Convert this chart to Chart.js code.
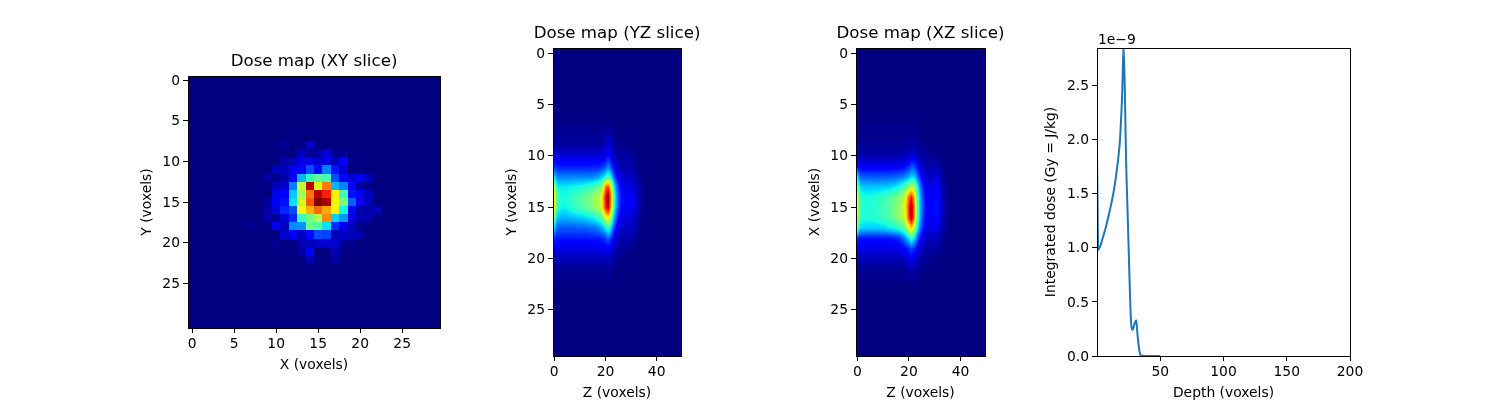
<!DOCTYPE html>
<html>
<head>
<meta charset="utf-8">
<title>Dose maps</title>
<script src="https://cdn.jsdelivr.net/npm/chart.js@4/dist/chart.umd.min.js"></script>
<style>
  html, body { margin: 0; background: #fff; width: 1500px; height: 400px; overflow: hidden; }
  canvas { position: absolute; }
</style>
</head>
<body>
<canvas id="xy" style="left:138px;top:51px" width="352" height="323"></canvas>
<canvas id="yz" style="left:503px;top:23px" width="228" height="379"></canvas>
<canvas id="xz" style="left:806px;top:23px" width="229" height="379"></canvas>
<canvas id="depth" style="left:1042px;top:28px" width="328" height="374"></canvas>
<script>
/* ----------------------------------------------------------
   Data. Dose maps are % of the map's
   maximum, rows are Y (or X), short rows are zero to the end.
   ---------------------------------------------------------- */
const xyTicks = [0, 5, 10, 15, 20, 25];
const yTicks = [0, 5, 10, 15, 20, 25];
const zTicks = [0, 20, 40];
const depthTicks = [50, 100, 150, 200];
const doseTicks = [0, 0.5, 1, 1.5, 2, 2.5];

const xyDose = [
  [], [], [], [], [], [], [], [],
  [0,0,0,0,0,0,0,0,0,0,0,2,0,0,7],
  [0,0,0,0,0,0,0,0,0,0,0,0,0,5,2,3,8,1,2],
  [0,0,0,0,0,0,0,0,0,0,0,3,5,9,9,7,9,5,12,1],
  [0,0,0,0,0,0,0,0,0,0,5,5,10,10,20,13,25,14,7],
  [0,0,0,0,0,0,0,0,0,3,1,4,12,30,42,46,44,20,12,8,10,5],
  [0,0,0,0,0,0,0,0,0,0,5,7,25,58,95,62,78,30,25,11,3,1],
  [0,0,0,0,0,0,0,0,0,0,9,12,32,55,78,95,88,65,43,14,12,5],
  [0,0,0,0,0,0,0,0,0,3,10,14,35,60,82,100,96,65,50,22,10,5],
  [0,0,0,0,0,0,0,0,0,3,8,16,20,64,72,80,73,65,37,13,4,3,5],
  [0,0,0,0,0,0,0,0,0,4,2,8,16,41,49,56,76,33,27,9,4,4],
  [0,0,0,0,0,0,0,2,0,0,10,5,26,27,48,46,35,17,10,5,1],
  [0,0,0,0,0,0,0,0,0,0,0,7,12,6,13,20,19,5,6,5,4],
  [0,0,0,0,0,0,0,0,0,0,2,0,0,4,5,7,7,7,2,1],
  [0,0,0,0,0,0,0,0,0,0,0,0,0,3,10,0,0,5],
  [0,0,0,0,0,0,0,0,0,0,0,0,0,0,5,0,0,4],
  [], [], [], [], [], [], [], []
];

const yzDose = [
  [], [], [], [], [], [], [],
  [1,1,1,1,1,1,1,1,1,1,1,1,1,1,1,1,1,1,1,1,1,2,1,1],
  [2,2,2,2,2,2,2,2,2,2,2,2,2,2,2,2,2,2,2,2,3,5,3,2,1,1],
  [4,3,3,3,3,3,3,3,3,3,3,3,3,3,3,3,3,3,3,4,6,9,7,4,2,2,1,1,1],
  [10,8,8,8,8,8,8,8,8,8,8,8,8,8,8,8,8,8,8,9,11,14,11,6,4,3,3,3,3,3,3,2,1],
  [17,15,15,15,15,15,15,15,15,15,15,15,15,15,15,15,15,15,16,18,20,25,20,12,7,5,5,4,4,4,4,3,2,1],
  [34,26,25,25,25,25,25,25,25,25,25,25,25,25,25,26,27,28,30,33,38,44,38,25,15,10,8,7,6,6,6,5,4,2,1],
  [58,38,36,36,36,36,37,37,38,38,39,39,40,41,42,43,45,47,50,60,79,86,68,44,28,18,13,10,9,9,9,8,6,3,2,1],
  [68,44,40,38,38,39,40,42,43,44,45,46,48,49,51,53,55,57,60,72,90,100,80,52,33,21,15,12,11,11,11,10,7,4,2,1],
  [66,42,39,37,37,38,39,40,42,43,44,45,46,48,49,51,53,55,58,70,87,97,76,48,31,20,14,12,11,11,11,10,7,4,2,1],
  [50,33,31,30,30,30,31,31,32,32,33,33,34,35,36,37,39,41,44,50,60,68,55,36,22,14,10,9,8,8,8,7,5,3,1,1],
  [33,22,21,21,21,21,21,21,21,22,22,22,22,23,23,24,24,26,28,31,37,42,35,22,13,9,7,6,6,6,6,5,3,2,1],
  [18,15,15,15,15,15,15,15,15,15,15,15,15,15,15,15,15,15,16,17,19,23,19,13,8,6,4,4,4,4,4,3,2,1],
  [9,9,9,9,9,9,9,9,9,9,9,9,9,9,9,9,9,9,9,9,10,11,9,6,4,3,3,3,2,2,2,1],
  [5,5,5,5,5,5,5,5,5,5,5,5,5,5,5,5,5,5,5,5,5,6,5,3,2,2,1,1],
  [2,2,2,2,2,2,2,2,2,2,2,2,2,2,2,2,2,2,2,2,2,3,2,1,1],
  [1,1,1,1,1,1,1,1,1,1,1,1,1,1,1,1,1,1,1,1,1,1,1],
  [], [], [], [], [], [], []
];

const xzDose = [
  [], [], [], [], [], [], [],
  [1,1,1,1,1,1,1,1,1,1,1,1,1,1,1,1,1,1,1,1,1,1,1],
  [1,1,1,1,1,1,1,1,1,1,1,1,1,1,1,1,1,1,1,1,2,2,2,1,1],
  [3,2,2,2,2,2,2,2,2,2,2,2,2,2,2,2,2,2,2,3,3,4,4,3,2,1,1,1],
  [7,4,4,4,4,4,4,4,4,4,4,4,4,4,4,4,4,5,5,5,6,8,8,6,4,3,3,2,2,2,2,1],
  [14,10,10,10,10,10,10,10,10,10,10,10,10,10,10,10,11,11,12,14,16,20,20,15,10,7,5,4,4,4,5,4,3,1],
  [36,22,22,21,21,21,21,21,21,21,21,21,21,22,22,22,23,24,25,27,30,33,33,26,18,12,8,7,6,7,8,8,5,3,1],
  [55,35,33,32,32,32,32,32,32,32,33,33,33,34,35,36,38,40,43,48,53,57,55,42,30,19,13,10,9,9,11,11,8,4,2,1],
  [64,42,40,38,38,38,39,40,40,41,42,43,44,46,47,49,51,53,57,66,82,89,72,50,35,23,15,11,10,11,13,13,9,5,3,1],
  [66,42,40,39,39,39,40,40,41,42,43,44,45,47,49,51,53,56,60,70,88,100,80,52,36,24,16,12,11,12,14,14,10,6,3,2,1],
  [62,41,40,39,39,39,39,40,40,41,42,43,44,46,48,50,52,54,58,68,86,98,78,51,35,23,15,11,10,11,13,13,9,5,3,1],
  [50,34,33,33,33,33,33,33,33,34,34,35,36,37,38,39,41,43,46,52,62,70,58,41,28,18,12,9,9,9,10,10,7,4,2,1],
  [18,14,14,14,14,14,14,14,14,14,14,14,14,15,15,16,17,20,24,29,36,42,36,25,16,11,8,6,5,5,6,5,4,2,1],
  [10,9,9,9,9,9,9,9,9,9,9,9,9,9,9,9,10,11,12,14,17,20,17,12,8,6,4,3,3,3,3,3,2,1],
  [5,5,5,5,5,5,5,5,5,5,5,5,5,5,5,5,5,5,6,7,9,10,9,6,4,3,2,2,1,1,1],
  [2,2,2,2,2,2,2,2,2,2,2,2,2,2,2,2,2,2,2,3,4,5,4,3,2,1,1],
  [1,1,1,1,1,1,1,1,1,1,1,1,1,1,1,1,1,1,1,1,1,2,2,1,1],
  [], [], [], [], [], [], []
];

const depths = [0,1,2,3,4,5,6,7,8,9,10,11,12,13,14,15,16,17,18,19,20,21,22,23,24,25,
  26,27,28,29,30,31,32,33,34,35,36,37,38,39,40,41,42,43,44,45,46,47,48,49,50];
const depthDose = [1.9,0.98,1.0,1.03,1.07,1.11,1.15,1.19,1.24,1.29,1.34,1.39,1.45,1.51,1.58,1.66,1.75,1.85,1.97,2.18,2.46,2.87,2.45,1.8,1.4,1.0,
  0.6,0.3,0.24,0.27,0.31,0.33,0.2,0.09,0.02,0.004,0.002,0.002,0.001,0.001,0,0,0,0,0,0,0,0,0,0,0];

/* ----------------------------------------------------------
   Shared defaults
   ---------------------------------------------------------- */
const FONT_NAME = "'DejaVu Sans'";
const TICK_FONT = { family: FONT_NAME, size: 13.89 };
Chart.defaults.color = '#000';
Chart.defaults.font = TICK_FONT;
Chart.defaults.animation = false;
Chart.defaults.responsive = false;

// matplotlib's jet, value in 0..1
function jet(v) {
  const clip = (a) => Math.round(255 * Math.min(1, Math.max(0, a)));
  const r = v < 0.35 ? 0 : v < 0.66 ? (v - 0.35) / 0.31 : v < 0.89 ? 1 : 1 - 0.5 * (v - 0.89) / 0.11;
  const g = v < 0.125 ? 0 : v < 0.375 ? (v - 0.125) / 0.25 : v < 0.64 ? 1 : 1 - (v - 0.64) / 0.27;
  const b = v < 0.11 ? 0.5 + 0.5 * v / 0.11 : v < 0.34 ? 1 : 1 - (v - 0.34) / 0.31;
  return [clip(r), clip(g), clip(b)];
}

// Paints a grid of values like imshow: scale the values first, colour after
function heatPlugin(cells, cols, smooth) {
  return {
    id: 'heat',
    beforeDatasetsDraw(chart) {
      const { x, y } = chart.scales;
      const left = Math.round(x.getPixelForValue(-0.5));
      const right = Math.round(x.getPixelForValue(cols - 0.5));
      const top = Math.round(y.getPixelForValue(-0.5));
      const bottom = Math.round(y.getPixelForValue(cells.length - 0.5));
      const w = right - left, h = bottom - top;

      const small = document.createElement('canvas');
      small.width = cols; small.height = cells.length;
      const sctx = small.getContext('2d');
      const simg = sctx.createImageData(cols, cells.length);
      cells.forEach((row, r) => {
        for (let c = 0; c < cols; c++) {
          const gray = Math.round((row[c] || 0) * 2.55);
          const i = (r * cols + c) * 4;
          simg.data[i] = simg.data[i + 1] = simg.data[i + 2] = gray;
          simg.data[i + 3] = 255;
        }
      });
      sctx.putImageData(simg, 0, 0);

      const big = document.createElement('canvas');
      big.width = w; big.height = h;
      const bctx = big.getContext('2d', { willReadFrequently: true });
      bctx.imageSmoothingEnabled = smooth;
      bctx.drawImage(small, 0, 0, w, h);
      const bimg = bctx.getImageData(0, 0, w, h);
      for (let i = 0; i < bimg.data.length; i += 4) {
        const [r, g, b] = jet(bimg.data[i] / 255);
        bimg.data[i] = r; bimg.data[i + 1] = g; bimg.data[i + 2] = b;
      }
      bctx.putImageData(bimg, 0, 0);
      chart.ctx.drawImage(big, left, top);
    },
  };
}

// Black box round the plot, all four sides
const framePlugin = {
  id: 'frame',
  afterDraw(chart) {
    const { left, top, right, bottom } = chart.chartArea;
    const ctx = chart.ctx;
    ctx.save();
    ctx.strokeStyle = '#000';
    ctx.lineWidth = 1;
    ctx.strokeRect(left + 0.5, top + 0.5, right - left, bottom - top);
    ctx.restore();
  },
};

// Text above the plot. The title plugin centres on the canvas, not the plot,
// and these titles are wider than their plots.
function headerPlugin(text) {
  return {
    id: 'header',
    afterDraw(chart) {
      const { left, right, top } = chart.chartArea;
      const ctx = chart.ctx;
      ctx.save();
      ctx.font = `16.67px ${FONT_NAME}`;
      ctx.fillStyle = '#000';
      ctx.textAlign = 'center';
      ctx.textBaseline = 'middle';
      ctx.fillText(text, (left + right) / 2, top - 14);
      ctx.restore();
    },
  };
}

// Matplotlib's offset text over the y axis
const offsetPlugin = {
  id: 'offset',
  afterDraw(chart) {
    const ctx = chart.ctx;
    ctx.save();
    ctx.font = `13.89px ${FONT_NAME}`;
    ctx.fillStyle = '#000';
    ctx.textAlign = 'left';
    ctx.textBaseline = 'alphabetic';
    ctx.fillText('1e\u22129', chart.chartArea.left + 1, chart.chartArea.top - 4);
    ctx.restore();
  },
};

function axis(label, min, max, ticks, size, format, labelOffset = 0, reverse = false) {
  return {
    type: 'linear',
    min, max, reverse,
    title: { display: true, text: label, padding: 0, font: TICK_FONT },
    border: { display: false },
    grid: { drawOnChartArea: false, drawTicks: true, tickLength: 5, tickColor: '#000', tickWidth: 1 },
    ticks: { autoSkip: false, maxRotation: 0, padding: 3, labelOffset, font: TICK_FONT, callback: format },
    afterBuildTicks: (scale) => { scale.ticks = ticks.map((value) => ({ value })); },
    afterFit: (scale) => {
      if (scale.isHorizontal()) scale.height = size; else scale.width = size;
    },
  };
}

function buildMap(id, title, xLabel, yLabel, cells, cols, xTicks, smooth) {
  return new Chart(document.getElementById(id), {
    type: 'scatter',
    data: { datasets: [] },
    plugins: [heatPlugin(cells, cols, smooth), framePlugin, headerPlugin(title)],
    options: {
      layout: { padding: { top: 25, right: 50, left: 1 } },
      plugins: { legend: { display: false }, tooltip: { enabled: false } },
      scales: {
        x: axis(xLabel, -0.5, cols - 0.5, xTicks, 46, (v) => String(v)),
        y: axis(yLabel, -0.5, cells.length - 0.5, yTicks, 49, (v) => String(v), 1, true),
      },
    },
  });
}

/* ----------------------------------------------------------
   The four panels
   ---------------------------------------------------------- */
buildMap('xy', 'Dose map (XY slice)', 'X (voxels)', 'Y (voxels)', xyDose, 30, xyTicks, false);
buildMap('yz', 'Dose map (YZ slice)', 'Z (voxels)', 'Y (voxels)', yzDose, 50, zTicks, true);
buildMap('xz', 'Dose map (XZ slice)', 'Z (voxels)', 'X (voxels)', xzDose, 50, zTicks, true);

new Chart(document.getElementById('depth'), {
  type: 'scatter',
  data: {
    datasets: [{
      data: depths.map((d, i) => ({ x: d, y: depthDose[i] })),
      showLine: true,
      cubicInterpolationMode: 'monotone',
      borderColor: '#1f77b4',
      borderWidth: 2,
      pointRadius: 0,
    }],
  },
  plugins: [framePlugin, offsetPlugin],
  options: {
    layout: { padding: { top: 20, right: 20, left: 1 } },
    plugins: { legend: { display: false }, tooltip: { enabled: false } },
    scales: {
      x: axis('Depth (voxels)', 0, 200, depthTicks, 46, (v) => String(v)),
      y: axis('Integrated dose (Gy = J/kg)', 0, 2.847, doseTicks, 54, (v) => v.toFixed(1), 1),
    },
  },
});
</script>
</body>
</html>
